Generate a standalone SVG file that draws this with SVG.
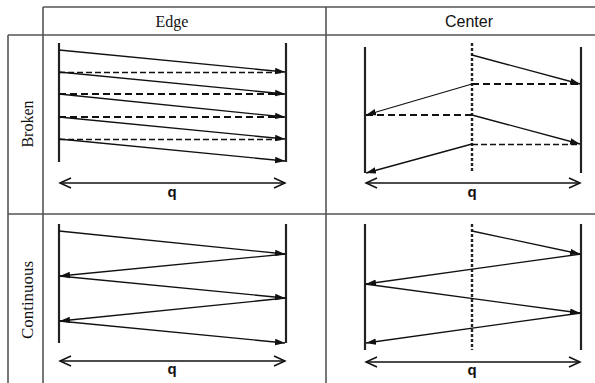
<svg xmlns="http://www.w3.org/2000/svg" width="595" height="383" viewBox="0 0 595 383">
<defs>
<marker id="ah" markerUnits="userSpaceOnUse" markerWidth="11" markerHeight="8" refX="10" refY="4" orient="auto"><path d="M0,0.8 L10,4 L0,7.2 Z" fill="#111"/></marker>
<marker id="oa" markerUnits="userSpaceOnUse" markerWidth="14" markerHeight="12" refX="12" refY="6" orient="auto-start-reverse"><path d="M1,1 L12,6 L1,11" fill="none" stroke="#111" stroke-width="1.5"/></marker>
<style>
.grid{stroke:#555;stroke-width:1.6;fill:none}
.wall{stroke:#222;stroke-width:2.2;fill:none}
.mid{stroke:#222;stroke-width:2.4;stroke-dasharray:3 2;fill:none}
.ray{stroke:#111;stroke-width:1.3;fill:none;marker-end:url(#ah)}
.dthick{stroke:#111;stroke-width:2.2;stroke-dasharray:7 4;fill:none}
.dthin{stroke:#111;stroke-width:1.3;stroke-dasharray:6 3;fill:none}
.q{stroke:#111;stroke-width:1.3;fill:none;marker-start:url(#oa);marker-end:url(#oa)}
.serif{font-family:"Liberation Serif",serif;font-size:16px;fill:#111}
.sans{font-family:"Liberation Sans",Arial,sans-serif;font-size:16px;fill:#111}
.ql{font-family:"Liberation Sans",Arial,sans-serif;font-size:15px;font-weight:bold;fill:#111;text-anchor:middle}
</style>
</defs>
<g id="table">
<line class="grid" x1="43" y1="7" x2="595" y2="7"/>
<line class="grid" x1="8" y1="35" x2="595" y2="35"/>
<line class="grid" x1="8" y1="214" x2="595" y2="214"/>
<line class="grid" x1="8" y1="35" x2="8" y2="383"/>
<line class="grid" x1="43" y1="7" x2="43" y2="383"/>
<line class="grid" x1="326" y1="7" x2="326" y2="383"/>
</g>
<g id="labels">
<text class="serif" x="172" y="27" text-anchor="middle">Edge</text>
<text class="sans" x="469" y="27" text-anchor="middle">Center</text>
<text class="serif" transform="translate(33,124) rotate(-90)" text-anchor="middle">Broken</text>
<text class="serif" transform="translate(33,300) rotate(-90)" text-anchor="middle" textLength="78" lengthAdjust="spacingAndGlyphs">Continuous</text>
</g>
<g id="edge-broken">
<line class="wall" x1="59" y1="43" x2="59" y2="162"/>
<line class="wall" x1="286" y1="43" x2="286" y2="162"/>
<line class="dthin" x1="59" y1="72.5" x2="284" y2="72.5"/>
<line class="dthick" x1="59" y1="94" x2="284" y2="94"/>
<line class="dthick" x1="59" y1="117" x2="284" y2="117"/>
<line class="dthin" x1="59" y1="139.5" x2="284" y2="139.5"/>
</g>
<g id="edge-continuous">
<line class="wall" x1="59" y1="224" x2="59" y2="343"/>
<line class="wall" x1="286" y1="224" x2="286" y2="343"/>
</g>
<g id="center-broken">
<line class="wall" x1="365" y1="47" x2="365" y2="173"/>
<line class="wall" x1="581" y1="47" x2="581" y2="173"/>
<line class="mid" x1="472" y1="43" x2="472" y2="173"/>
<line class="dthick" x1="472" y1="84" x2="580" y2="84"/>
<line class="dthick" x1="366" y1="115" x2="472" y2="115"/>
<line class="dthin" x1="472" y1="144.5" x2="580" y2="144.5"/>
</g>
<g id="center-continuous">
<line class="wall" x1="365" y1="224" x2="365" y2="350"/>
<line class="wall" x1="581" y1="224" x2="581" y2="350"/>
<line class="mid" x1="472" y1="224" x2="472" y2="350"/>
</g>
<g id="connectors">
<line class="ray" x1="59" y1="50" x2="285" y2="72"/>
<line class="ray" x1="59" y1="72" x2="285" y2="94"/>
<line class="ray" x1="59" y1="94" x2="285" y2="117"/>
<line class="ray" x1="59" y1="117" x2="285" y2="139"/>
<line class="ray" x1="59" y1="139" x2="285" y2="161"/>
<line class="ray" x1="472" y1="55" x2="580" y2="84"/>
<line class="ray" x1="472" y1="84" x2="366" y2="115"/>
<line class="ray" x1="472" y1="115" x2="580" y2="144"/>
<line class="ray" x1="472" y1="144" x2="366" y2="173"/>
<line class="ray" x1="59" y1="231" x2="285" y2="254"/>
<line class="ray" x1="286" y1="254" x2="60" y2="276"/>
<line class="ray" x1="59" y1="276" x2="285" y2="298"/>
<line class="ray" x1="286" y1="298" x2="60" y2="321"/>
<line class="ray" x1="59" y1="321" x2="285" y2="343"/>
<line class="ray" x1="472" y1="231" x2="580" y2="254"/>
<line class="ray" x1="581" y1="254" x2="366" y2="284"/>
<line class="ray" x1="365" y1="284" x2="580" y2="313"/>
<line class="ray" x1="581" y1="313" x2="366" y2="343"/>
<line class="q" x1="60" y1="183" x2="285" y2="183"/>
<line class="q" x1="366" y1="183" x2="580" y2="183"/>
<line class="q" x1="60" y1="361" x2="285" y2="361"/>
<line class="q" x1="366" y1="362" x2="580" y2="362"/>
</g>
<g id="q-labels">
<text class="ql" x="172" y="197">q</text>
<text class="ql" x="472" y="197">q</text>
<text class="ql" x="172" y="374">q</text>
<text class="ql" x="472" y="375">q</text>
</g>
</svg>
